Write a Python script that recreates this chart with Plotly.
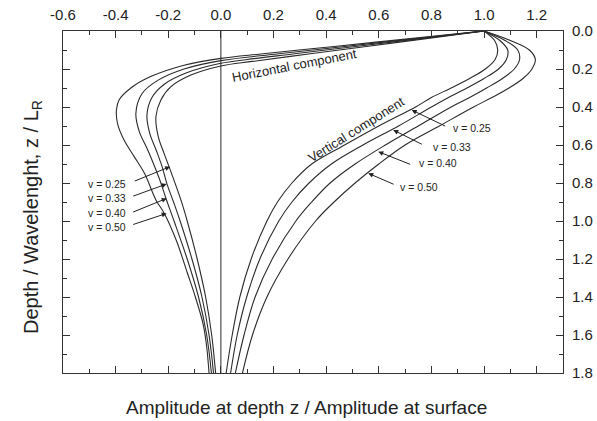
import plotly.graph_objects as go

# ---------------- data ----------------
# Horizontal component: depth z/L_R and amplitude ratio, per Poisson ratio
h_z_025 = [0, 0.04, 0.08, 0.12, 0.16, 0.184, 0.232, 0.293, 0.363, 0.451, 0.556, 0.644, 0.714, 0.889, 1.0, 1.2, 1.4, 1.6, 1.8]
h_x_025 = [1.0, 0.78, 0.56, 0.34, 0.12, 0.0, -0.114, -0.19, -0.228, -0.247, -0.238, -0.216, -0.197, -0.152, -0.128, -0.09, -0.058, -0.035, -0.02]

h_z_033 = [0, 0.04, 0.08, 0.12, 0.15, 0.17, 0.22, 0.28, 0.35, 0.442, 0.54, 0.63, 0.72, 0.805, 0.9, 1.0, 1.2, 1.4, 1.6, 1.8]
h_x_033 = [1.0, 0.76, 0.52, 0.28, 0.10, 0.0, -0.13, -0.215, -0.262, -0.281, -0.27, -0.245, -0.222, -0.205, -0.18, -0.155, -0.11, -0.072, -0.045, -0.028]

h_z_040 = [0, 0.04, 0.08, 0.12, 0.156, 0.2, 0.26, 0.33, 0.433, 0.53, 0.62, 0.72, 0.8, 0.88, 1.0, 1.2, 1.4, 1.6, 1.8]
h_x_040 = [1.0, 0.74, 0.48, 0.22, 0.0, -0.14, -0.24, -0.3, -0.323, -0.31, -0.28, -0.25, -0.228, -0.209, -0.178, -0.128, -0.085, -0.054, -0.036]

h_z_050 = [0, 0.04, 0.08, 0.12, 0.144, 0.18, 0.24, 0.30, 0.363, 0.416, 0.486, 0.574, 0.66, 0.75, 0.889, 0.96, 1.1, 1.275, 1.4, 1.54, 1.65, 1.8]
h_x_050 = [1.0, 0.72, 0.44, 0.16, 0.0, -0.14, -0.267, -0.342, -0.387, -0.397, -0.393, -0.368, -0.33, -0.29, -0.247, -0.215, -0.17, -0.127, -0.097, -0.068, -0.055, -0.045]

# Vertical component
v_z = [0, 0.05, 0.1, 0.15, 0.2, 0.25, 0.3, 0.35, 0.4, 0.5, 0.6, 0.7, 0.8, 0.9, 1.0, 1.2, 1.4, 1.6, 1.8]
v_x_025 = [1.0, 1.04, 1.052, 1.042, 1.005, 0.945, 0.875, 0.80, 0.74, 0.60, 0.47, 0.345, 0.27, 0.215, 0.175, 0.115, 0.072, 0.043, 0.02]
v_x_033 = [1.0, 1.06, 1.09, 1.085, 1.055, 1.0, 0.935, 0.865, 0.80, 0.675, 0.54, 0.42, 0.335, 0.27, 0.22, 0.148, 0.098, 0.062, 0.037]
v_x_040 = [1.0, 1.08, 1.128, 1.135, 1.115, 1.07, 1.01, 0.945, 0.875, 0.75, 0.625, 0.51, 0.415, 0.345, 0.285, 0.195, 0.13, 0.088, 0.055]
v_x_050 = [1.0, 1.10, 1.172, 1.195, 1.182, 1.148, 1.095, 1.03, 0.96, 0.83, 0.70, 0.60, 0.51, 0.43, 0.36, 0.255, 0.175, 0.12, 0.082]

labels = ["v = 0.25", "v = 0.33", "v = 0.40", "v = 0.50"]

# tick labels
x_ticks = [-0.6, -0.4, -0.2, 0.0, 0.2, 0.4, 0.6, 0.8, 1.0, 1.2]
x_tick_text = ["-0.6", "-0.4", "-0.2", "0.0", "0.2", "0.4", "0.6", "0.8", "1.0", "1.2"]
y_ticks = [0.0, 0.2, 0.4, 0.6, 0.8, 1.0, 1.2, 1.4, 1.6, 1.8]
y_tick_text = ["0.0", "0.2", "0.4", "0.6", "0.8", "1.0", "1.2", "1.4", "1.6", "1.8"]

# label / arrow anchor points (data coords)
right_lab_x = [0.954, 0.878, 0.825, 0.753]
right_lab_z = [0.51, 0.61, 0.695, 0.821]
right_tail_x = [0.858, 0.769, 0.725, 0.662]
right_tail_z = [0.504, 0.60, 0.705, 0.81]
right_head_x = [0.725, 0.655, 0.598, 0.56]
right_head_z = [0.416, 0.521, 0.635, 0.749]

left_lab_x = [-0.431, -0.431, -0.431, -0.431]
left_lab_z = [0.805, 0.881, 0.96, 1.034]
left_tail_x = [-0.333, -0.339, -0.339, -0.339]
left_tail_z = [0.793, 0.872, 0.956, 1.021]
left_head_x = [-0.193, -0.206, -0.206, -0.206]
left_head_z = [0.714, 0.805, 0.881, 0.96]

# ---------------- figure ----------------
LINE = "#2a2a2a"
FONT = "Arial, Liberation Sans, sans-serif"

fig = go.Figure()
h_series = [(h_x_025, h_z_025), (h_x_033, h_z_033), (h_x_040, h_z_040), (h_x_050, h_z_050)]
v_series = [v_x_025, v_x_033, v_x_040, v_x_050]
for (hx, hz) in h_series:
    fig.add_trace(go.Scatter(x=hx, y=hz, mode="lines", line=dict(color=LINE, width=1.1, shape="spline", smoothing=1.0),
                             showlegend=False, hoverinfo="skip"))
for vx in v_series:
    fig.add_trace(go.Scatter(x=vx, y=v_z, mode="lines", line=dict(color=LINE, width=1.1, shape="spline", smoothing=1.0),
                             showlegend=False, hoverinfo="skip"))
# dummy trace for mirrored axes
fig.add_trace(go.Scatter(x=[None], y=[None], xaxis="x2", yaxis="y2", showlegend=False, hoverinfo="skip"))

tick_style = dict(showline=True, linecolor="#333", linewidth=1, ticks="inside", ticklen=7, tickcolor="#333",
                  tickwidth=1, showgrid=False, zeroline=False, mirror=False, automargin=False)
minor_x = dict(ticks="inside", ticklen=4, tickcolor="#333", dtick=0.1, tick0=-0.6)
minor_y = dict(ticks="inside", ticklen=4, tickcolor="#333", dtick=0.1, tick0=0)

fig.update_layout(
    width=597, height=421,
    margin=dict(l=63, r=34, t=31, b=48, autoexpand=False),
    paper_bgcolor="white", plot_bgcolor="white",
    font=dict(family=FONT, color="#222", size=15),
    xaxis=dict(range=[-0.6, 1.3], side="top", tickmode="array", tickvals=x_ticks, ticktext=x_tick_text,
               minor=minor_x, ticklabelstandoff=4, tickfont=dict(size=15, color="#222"), **tick_style),
    xaxis2=dict(range=[-0.6, 1.3], side="bottom", overlaying="x", anchor="y", tickmode="array", tickvals=x_ticks,
                showticklabels=False, minor=minor_x, **tick_style),
    yaxis=dict(range=[1.8, 0], side="right", tickmode="array", tickvals=y_ticks, ticktext=y_tick_text,
               minor=minor_y, ticklabelstandoff=5, tickfont=dict(size=15, color="#222"), **tick_style),
    yaxis2=dict(range=[1.8, 0], side="left", overlaying="y", anchor="x", tickmode="array", tickvals=y_ticks,
                showticklabels=False, minor=minor_y, **tick_style),
)

# zero line
fig.add_shape(type="line", xref="x", yref="paper", x0=0, x1=0, y0=0, y1=1, line=dict(color=LINE, width=1))

# axis titles
fig.add_annotation(text="Amplitude at depth z / Amplitude at surface", xref="paper", yref="paper",
                   x=0.486, y=-0.102, showarrow=False, font=dict(size=19, family=FONT, color="#222"),
                   xanchor="center", yanchor="middle")
fig.add_annotation(text="Depth / Wavelenght, z / L<sub>R</sub>", xref="paper", yref="paper",
                   x=-0.062, y=0.456, showarrow=False, textangle=-90, font=dict(size=20, family=FONT, color="#222"),
                   xanchor="center", yanchor="middle")

# curve labels
fig.add_annotation(text="Horizontal component", x=0.278, y=0.184, xref="x", yref="y", showarrow=False,
                   textangle=-11, font=dict(size=13, family=FONT, color="#222"))
fig.add_annotation(text="Vertical component", x=0.515, y=0.52, xref="x", yref="y", showarrow=False,
                   textangle=-32, font=dict(size=13, family=FONT, color="#222"))

for i, lab in enumerate(labels):
    fig.add_annotation(text=lab, x=right_lab_x[i], y=right_lab_z[i], xref="x", yref="y", showarrow=False,
                       font=dict(size=10.5, family=FONT, color="#222"))
    fig.add_annotation(text="", x=right_head_x[i], y=right_head_z[i], ax=right_tail_x[i], ay=right_tail_z[i],
                       xref="x", yref="y", axref="x", ayref="y", showarrow=True, arrowhead=2, arrowsize=1,
                       arrowwidth=1, arrowcolor="#222", standoff=0, startstandoff=0)
    fig.add_annotation(text=lab, x=left_lab_x[i], y=left_lab_z[i], xref="x", yref="y", showarrow=False,
                       font=dict(size=10.5, family=FONT, color="#222"))
    fig.add_annotation(text="", x=left_head_x[i], y=left_head_z[i], ax=left_tail_x[i], ay=left_tail_z[i],
                       xref="x", yref="y", axref="x", ayref="y", showarrow=True, arrowhead=2, arrowsize=1,
                       arrowwidth=1, arrowcolor="#222", standoff=0, startstandoff=0)

fig.write_html("out.html")
